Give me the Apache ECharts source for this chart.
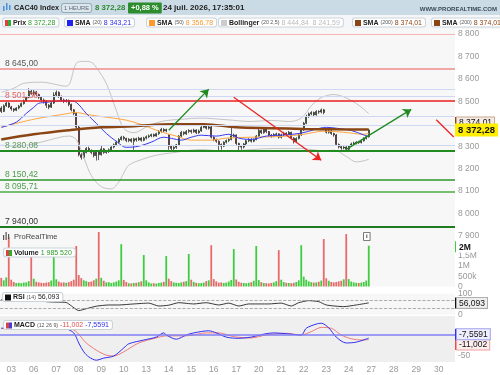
<!DOCTYPE html>
<html>
<head>
<meta charset="utf-8">
<script src="https://cdn.jsdelivr.net/npm/echarts@6/dist/echarts.min.js"></script>
<style>
html, body { margin: 0; padding: 0; background: #fff; }
#chart { width: 500px; height: 375px; }
</style>
</head>
<body>
<div id="chart"></div>
<script>
var days = ['02','03','06','07','08','09','10','13','14','15','16','17','20','21','22','23','24','27','28','29','30'];
var hours = ['09','10','11','12','13','14','15','16','17'];
var slotCount = 182;

// [ouverture, clôture, plus bas, plus haut] par bougie horaire
var candles = [
  [8470,8455,8448,8478],[8455,8480,8452,8486],[8480,8492,8475,8498],[8492,8475,8470,8496],
  // 03
  [8475,8466,8458,8480],[8466,8460,8452,8470],[8460,8470,8456,8474],[8470,8478,8464,8484],[8478,8490,8474,8495],
  [8490,8502,8485,8508],[8502,8518,8498,8524],[8518,8545,8514,8558],[8545,8535,8528,8552],
  // 06
  [8535,8542,8526,8550],[8542,8530,8522,8546],[8530,8518,8510,8534],[8518,8506,8498,8522],[8506,8500,8490,8512],
  [8500,8482,8470,8504],[8482,8474,8465,8488],[8474,8492,8470,8498],[8492,8528,8488,8540],
  // 07
  [8528,8540,8522,8548],[8540,8522,8515,8544],[8522,8506,8500,8526],[8506,8500,8492,8512],[8500,8504,8494,8510],
  [8504,8486,8478,8508],[8486,8462,8455,8490],[8462,8446,8438,8466],[8446,8385,8378,8450],
  // 08
  [8385,8262,8255,8392],[8262,8250,8240,8270],[8250,8272,8246,8278],[8272,8290,8268,8296],[8290,8280,8274,8298],
  [8280,8272,8264,8286],[8272,8258,8250,8276],[8258,8275,8236,8280],[8275,8262,8238,8280],
  // 09
  [8262,8288,8258,8304],[8288,8272,8266,8292],[8272,8276,8266,8282],[8276,8284,8270,8290],[8284,8296,8278,8300],
  [8296,8306,8290,8312],[8306,8318,8300,8324],[8318,8330,8312,8336],[8330,8340,8325,8346],
  // 10
  [8340,8334,8326,8346],[8334,8325,8318,8338],[8325,8331,8318,8336],[8331,8322,8316,8336],[8322,8333,8284,8338],
  [8333,8328,8320,8338],[8328,8336,8324,8342],[8336,8326,8320,8340],[8326,8336,8322,8342],
  // 13
  [8336,8342,8330,8348],[8342,8346,8336,8352],[8346,8352,8340,8356],[8352,8345,8340,8356],[8345,8356,8342,8360],
  [8356,8366,8350,8372],[8366,8375,8360,8382],[8375,8368,8362,8380],[8368,8374,8362,8378],
  // 14
  [8350,8300,8284,8352],[8300,8290,8282,8306],[8290,8295,8282,8300],[8295,8306,8288,8310],[8306,8345,8302,8350],
  [8345,8362,8340,8368],[8362,8355,8348,8366],[8355,8366,8350,8372],[8366,8370,8358,8376],
  // 15
  [8370,8364,8356,8374],[8364,8372,8360,8378],[8372,8360,8354,8376],[8360,8368,8355,8374],[8368,8384,8364,8390],
  [8384,8392,8380,8400],[8392,8380,8374,8396],[8380,8386,8374,8392],[8386,8340,8334,8390],
  // 16
  [8340,8330,8322,8344],[8330,8322,8315,8334],[8322,8308,8282,8326],[8308,8300,8284,8312],[8300,8318,8296,8322],
  [8318,8325,8312,8330],[8325,8330,8318,8336],[8330,8346,8326,8382],[8346,8350,8340,8356],
  // 17
  [8350,8312,8305,8352],[8312,8300,8282,8316],[8300,8296,8284,8306],[8296,8310,8290,8314],[8310,8324,8305,8330],
  [8324,8330,8318,8336],[8330,8322,8316,8336],[8322,8330,8318,8334],[8330,8345,8326,8350],
  // 20
  [8345,8370,8342,8378],[8370,8360,8354,8374],[8360,8376,8356,8382],[8376,8365,8358,8380],[8365,8350,8344,8368],
  [8350,8345,8338,8354],[8345,8352,8340,8358],[8352,8355,8344,8360],[8355,8340,8334,8358],
  // 21
  [8340,8350,8334,8356],[8350,8358,8344,8364],[8358,8354,8348,8362],[8354,8362,8350,8368],[8362,8336,8330,8364],
  [8336,8320,8312,8340],[8320,8334,8316,8340],[8334,8350,8330,8356],[8350,8372,8346,8378],
  // 22
  [8372,8402,8368,8408],[8402,8432,8398,8440],[8432,8444,8426,8450],[8444,8450,8438,8456],[8450,8440,8434,8454],
  [8440,8455,8436,8460],[8455,8452,8444,8460],[8452,8462,8446,8468],[8462,8450,8442,8466],
  // 23
  [8372,8362,8356,8380],[8362,8368,8356,8374],[8368,8356,8350,8372],[8356,8350,8342,8360],[8350,8308,8302,8354],
  [8308,8298,8290,8312],[8298,8292,8284,8304],[8292,8296,8286,8300],[8296,8286,8282,8300],
  // 24
  [8286,8300,8282,8304],[8300,8310,8296,8316],[8310,8314,8304,8320],[8314,8318,8308,8322],[8318,8316,8310,8324],
  [8316,8324,8312,8330],[8324,8334,8320,8340],[8334,8342,8330,8348],[8342,8372.28,8338,8376]
];

var volumes = [
  420000,300000,440000,2400000,
  330000,220000,170000,180000,160000,190000,200000,260000,1770000,
  380000,230000,200000,180000,170000,190000,210000,290000,1770000,
  350000,240000,190000,200000,180000,210000,260000,330000,1970000,
  560000,410000,300000,260000,220000,240000,300000,380000,2650000,
  420000,280000,200000,210000,170000,200000,240000,300000,2060000,
  320000,220000,160000,150000,170000,180000,210000,250000,1530000,
  300000,200000,150000,160000,140000,170000,190000,230000,1480000,
  380000,260000,200000,180000,170000,200000,230000,260000,1580000,
  330000,220000,180000,160000,170000,190000,260000,300000,2010000,
  360000,250000,190000,200000,170000,190000,240000,320000,1820000,
  340000,230000,180000,170000,160000,180000,210000,280000,1970000,
  310000,210000,170000,160000,150000,170000,200000,260000,1770000,
  330000,220000,180000,170000,160000,180000,220000,300000,2010000,
  480000,330000,250000,210000,190000,200000,230000,290000,2310000,
  400000,280000,220000,200000,220000,250000,280000,350000,2550000,
  360000,240000,200000,180000,170000,190000,220000,290000,1985520
];

// indicateurs (indice de bougie, valeur)
var sma20Slots = [0,6,10,13,15,18,21,27,30,34,38,42,46,50,55,60,65,68,72,76,80,86,91,95,100,106,113,120,126,130,134,140,145,147];
var sma20Vals  = [8384,8407,8446,8473,8491,8495,8500,8502,8495,8446,8402,8357,8322,8295,8300,8318,8340,8335,8327,8340,8349,8345,8353,8336,8330,8345,8350,8358,8376,8384,8380,8370,8350,8343.21];

var sma50Slots = [0,13,27,29,35,40,50,57,63,70,76,84,90,100,113,121,129,137,145,147];
var sma50Vals  = [8384,8420,8446,8451,8440,8432,8416,8393,8367,8345,8327,8327,8336,8340,8344,8353,8367,8362,8353,8356.78];

var sma200Slots = [0,13,27,40,53,68,81,94,108,121,134,147];
var sma200Vals  = [8330,8353,8371,8384,8389,8398,8398,8384,8380,8377,8375,8374.01];

var bollUpSlots = [0,5,9,16,26,30,33,36,38,42,46,49,53,58,64,72,80,90,100,108,115,120,124,127,130,133,138,142,145,147];
var bollUpVals  = [8540,8558,8580,8585,8567,8669,8678,8674,8651,8580,8460,8380,8360,8385,8410,8420,8425,8418,8410,8415,8410,8425,8480,8510,8525,8530,8515,8490,8465,8444.84];

var bollLowSlots = [0,6,13,20,27,30,33,36,40,44,47,49,51,56,62,68,80,90,100,110,120,124,128,133,138,142,145,147];
var bollLowVals  = [8305,8300,8310,8330,8345,8330,8250,8170,8120,8110,8140,8180,8215,8240,8260,8270,8285,8277,8285,8290,8290,8285,8280,8282,8255,8230,8235,8241.59];

var rsiSlots = [0,4,8,13,18,22,26,28,31,34,38,43,47,53,59,63,67,71,77,82,87,91,95,99,107,112,116,119,123,127,130,137,142,147];
var rsiVals  = [72,78,75,72,62,60,58,42,19,28,40,46,46,51,55,41,45,57,51,57,46,55,41,51,51,55,41,57,67,62,46,38,46,56.093];

var macdSlots = [0,10,20,26,29,31,33,35,38,41,45,49,51,57,62,65,66,70,74,77,83,86,90,95,100,105,109,114,120,122,126,128,131,134,138,142,147];
var macdVals  = [16,22,25,15,5,-19,-40,-52,-60,-55,-50,-31,-21,-12,-5,5,0,-10,0,5,10,5,-5,-8,-5,2,5,3,0,16,26,28,17,-5,-19,-17,-7.5591];

var signalSlots = [0,10,20,29,34,38,42,45,49,55,62,66,74,82,87,93,100,106,114,120,124,128,132,136,140,144,147];
var signalVals  = [15,18,22,12,-19,-36,-48,-50,-40,-19,-7,-2,-2,5,5,-4,-7,0,4,0,8,18,16,0,-9,-12,-11.002];

// niveaux tracés à la main sur le graphique
var levels = [8798, 8645, 8501.38, 8554, 8522, 8433, 8393, 8304, 8280.08, 8150.42, 8095.71, 7940];
var levelColors = ['#f6b4b4','#f08c8c','#ee1c1c','#cfd8f2','#cfd8f2','#cfd8f2','#cfd8f2','#cfd8f2','#208c20','#2a962a','#48ae48','#1f7d1f'];
var levelWidths = [1.2, 1.5, 1.5, 1, 1, 1, 1, 1, 2, 1.6, 1.6, 2];
var levelLabelColors = [null, '#555', '#e86060', null, null, null, null, null, '#5a9a5a', '#4a9a4a', '#4aa04a', '#333'];

// flèches : [bougie départ, prix départ, bougie arrivée, prix arrivée]
var arrows = [
  [67, 8371, 83, 8554, '#1f8a1f', true],
  [93, 8518, 128, 8237, '#ee2222', true],
  [138, 8286, 164, 8464, '#1f8a1f', true],
  [174, 8418, 181, 8341, '#ee2222', false]
];

var F = 'Liberation Sans, Arial, sans-serif';
var UP = '#3fcc3f', DN = '#e66a6a';
var NOLINE = { color: 'rgba(0,0,0,0)', width: 1, type: 'solid' };

function fr(v, d) {
  var s = Math.abs(v).toFixed(d).split('.');
  var i = s[0].replace(/\B(?=(\d{3})+(?!\d))/g, ' ');
  return (v < 0 ? '-' : '') + (d ? i + ',' + s[1] : i);
}

var cats = [];
days.forEach(function (d, k) {
  (k === 0 ? hours.slice(5) : hours).forEach(function (h) { cats.push(d + ' ' + h + 'h'); });
});
cats = cats.slice(0, slotCount);

function pairs(slots, vals) {
  return slots.map(function (s, i) { return [s, vals[i]]; });
}

var chart = echarts.init(document.getElementById('chart'));

var grids = [
  { left: -2, right: 45, top: 29, height: 207 },
  { left: -2, right: 45, top: 231, height: 55.5 },
  { left: -2, right: 45, top: 293.8, height: 20.7 },
  { left: -2, right: 45, top: 316, height: 46 }
].map(function (g, i) {
  g.show = true;
  g.borderWidth = 0;
  g.backgroundColor = i === 3 ? '#efefef' : '#f7f7f7';
  return g;
});

var xAxes = [0, 1, 2, 3].map(function (i) {
  return {
    type: 'category', gridIndex: i, data: cats, boundaryGap: true,
    axisLine: { show: false }, axisTick: { show: false }, splitLine: { show: false },
    axisLabel: i === 3 ? {
      show: true, color: '#999', fontSize: 8.5, fontFamily: F, margin: 3,
      interval: function (idx, val) { return val.slice(3, 5) === '09'; },
      formatter: function (val) { return val.slice(0, 2); }
    } : { show: false }
  };
});

var yBase = {
  position: 'right', scale: false,
  axisLine: { show: false }, axisTick: { show: false }, splitLine: { show: false }
};
var volNames = { 0: '0', 500000: '500k', 1000000: '1M', 1500000: '1,5M', 2000000: '2M' };
var yAxes = [
  Object.assign({}, yBase, {
    gridIndex: 0, min: 7900, max: 8822, interval: 100,
    axisLabel: { color: '#999', fontSize: 8.5, fontFamily: F, margin: 3, showMaxLabel: false,
      formatter: function (v) { return v % 100 === 0 ? fr(v, 0) : ''; } }
  }),
  Object.assign({}, yBase, {
    gridIndex: 1, min: 0, max: 2700000, interval: 500000,
    axisLabel: { color: '#999', fontSize: 8.5, fontFamily: F, margin: 3, showMaxLabel: false,
      formatter: function (v) { return volNames[v] || ''; } }
  }),
  Object.assign({}, yBase, {
    gridIndex: 2, min: 0, max: 100, interval: 100,
    axisLabel: { color: '#999', fontSize: 8.5, fontFamily: F, margin: 3 }
  }),
  Object.assign({}, yBase, {
    gridIndex: 3, min: -64.3, max: 45.2,
    axisLabel: { color: '#999', fontSize: 8.5, fontFamily: F, margin: 3, customValues: [-50],
      formatter: function (v) { return fr(v, 0); } }
  })
];

function badge(value, text, mark, bg, border, offsetY, bold) {
  return {
    yAxis: value,
    lineStyle: NOLINE,
    label: {
      show: true, position: 'end', distance: 0, offset: [0, offsetY || 0],
      formatter: '{m|}{t|' + text + '}',
      rich: {
        m: { width: 2, height: 11, backgroundColor: mark },
        t: { color: '#111', fontSize: 8.5, fontFamily: F, fontWeight: bold ? 'bold' : 'normal',
             backgroundColor: bg, borderColor: border, borderWidth: 1, padding: [1, 2, 0, 2], height: 9, lineHeight: 9 }
      }
    }
  };
}

var levelData = levels.map(function (v, i) {
  var item = { yAxis: v, lineStyle: { color: levelColors[i], width: levelWidths[i], type: 'solid' } };
  if (levelLabelColors[i]) {
    item.label = { show: true, position: 'insideStartTop', distance: [5, 1], formatter: fr(v, 2),
      color: levelLabelColors[i], fontSize: 8.5, fontFamily: F };
  } else {
    item.label = { show: false };
  }
  return item;
});

var arrowData = arrows.map(function (a) {
  return [
    { coord: [cats[a[0]], a[1]], symbol: 'none', lineStyle: { color: a[4], width: 1.3, type: 'solid' } },
    { coord: [cats[a[2]], a[3]], symbol: a[5] ? 'arrow' : 'none', symbolSize: 8 }
  ];
});

var lastClose = candles[candles.length - 1][1];
var lastSma200 = sma200Vals[sma200Vals.length - 1];

var series = [
  {
    type: 'candlestick', xAxisIndex: 0, yAxisIndex: 0, data: candles, barWidth: '72%',
    itemStyle: { color: '#2fb82f', color0: '#d83030', borderColor: '#1e1e1e', borderColor0: '#1e1e1e', borderWidth: 0.7 },
    markLine: { silent: true, symbol: ['none', 'none'], animation: false, label: { show: false }, data: levelData }
  },
  { type: 'line', xAxisIndex: 0, yAxisIndex: 0, data: pairs(bollUpSlots, bollUpVals), smooth: 0.35, symbol: 'none',
    lineStyle: { color: '#c4c4c4', width: 1 } },
  { type: 'line', xAxisIndex: 0, yAxisIndex: 0, data: pairs(bollLowSlots, bollLowVals), smooth: 0.35, symbol: 'none',
    lineStyle: { color: '#c4c4c4', width: 1 } },
  { type: 'line', xAxisIndex: 0, yAxisIndex: 0, data: pairs(sma50Slots, sma50Vals), smooth: 0.35, symbol: 'none',
    lineStyle: { color: '#ffa640', width: 1 } },
  { type: 'line', xAxisIndex: 0, yAxisIndex: 0, data: pairs(sma20Slots, sma20Vals), smooth: 0.35, symbol: 'none',
    lineStyle: { color: '#3a3af0', width: 1 } },
  { type: 'line', xAxisIndex: 0, yAxisIndex: 0, data: pairs(sma200Slots, sma200Vals), smooth: 0.35, symbol: 'none',
    lineStyle: { color: '#8b4513', width: 2.5 },
    markLine: {
      silent: true, symbol: ['none', 'none'], animation: false, label: { show: false },
      data: arrowData.concat([
        badge(lastSma200, fr(lastSma200, 2), '#8b4513', '#f3ebe4', '#c9a88c', -7),
        {
          yAxis: lastClose, lineStyle: NOLINE,
          label: { show: true, position: 'end', distance: 0, formatter: fr(lastClose, 2),
            backgroundColor: '#ffee00', color: '#111', fontWeight: 'bold', fontSize: 9.5, fontFamily: F, padding: [2, 3, 1, 3] }
        }
      ])
    }
  },
  {
    type: 'bar', xAxisIndex: 1, yAxisIndex: 1, barWidth: '72%',
    data: volumes.map(function (v, i) {
      return { value: v, itemStyle: { color: candles[i][1] >= candles[i][0] ? UP : DN } };
    }),
    markLine: { silent: true, symbol: ['none', 'none'], animation: false,
      data: [badge(volumes[volumes.length - 1], '2M', '#3fcc3f', '#ffffff', '#ffffff', 1, true)] }
  },
  {
    type: 'line', xAxisIndex: 2, yAxisIndex: 2, data: pairs(rsiSlots, rsiVals), smooth: 0.2, symbol: 'none',
    lineStyle: { color: '#222', width: 0.9 },
    markLine: { silent: true, symbol: ['none', 'none'], animation: false, label: { show: false },
      data: [
        { yAxis: 70, lineStyle: { color: '#999', width: 0.8, type: 'dashed' } },
        { yAxis: 30, lineStyle: { color: '#999', width: 0.8, type: 'dashed' } },
        badge(rsiVals[rsiVals.length - 1], fr(rsiVals[rsiVals.length - 1], 3), '#111', '#eeeeee', '#aaaaaa', 0)
      ] }
  },
  {
    type: 'line', xAxisIndex: 3, yAxisIndex: 3, data: pairs(signalSlots, signalVals), smooth: 0.3, symbol: 'none',
    lineStyle: { color: '#f07a7a', width: 1 },
    markLine: { silent: true, symbol: ['none', 'none'], animation: false, label: { show: false },
      data: [badge(signalVals[signalVals.length - 1], fr(signalVals[signalVals.length - 1], 3), '#e84c4c', '#fdeeee', '#f0a0a0', 5)] }
  },
  {
    type: 'line', xAxisIndex: 3, yAxisIndex: 3, data: pairs(macdSlots, macdVals), smooth: 0.3, symbol: 'none',
    lineStyle: { color: '#3030f0', width: 1 },
    markLine: { silent: true, symbol: ['none', 'none'], animation: false, label: { show: false },
      data: [
        { yAxis: 0, lineStyle: { color: '#7f7ff5', width: 1.6, type: 'solid' } },
        badge(macdVals[macdVals.length - 1], fr(macdVals[macdVals.length - 1], 4), '#3030f0', '#eeeeff', '#a0a0f0', -4)
      ] }
  }
];

function box(x, y, text, rich) {
  return {
    type: 'text', z: 100, x: x, y: y,
    style: {
      text: text, rich: rich, fill: '#222', font: '7px ' + F, verticalAlign: 'middle',
      backgroundColor: '#ffffff', borderColor: '#c9d3da', borderWidth: 1, borderRadius: 2, padding: [1, 3, 0, 2]
    }
  };
}
function rt(color, size, bold) {
  return { fill: color, color: color, fontSize: size, fontFamily: F, fontWeight: bold ? 'bold' : 'normal' };
}
function sq(color, w) {
  return { width: w || 6, height: 6, backgroundColor: color };
}

var graphics = [
  { type: 'rect', z: 90, shape: { x: 0, y: 0, width: 500, height: 15 }, style: { fill: '#cbdbe5' } },
  { type: 'rect', z: 90, shape: { x: 0, y: 15, width: 500, height: 14 }, style: { fill: '#f4f6f8' } },
  { type: 'rect', z: 100, shape: { x: 3, y: 6, width: 1.5, height: 5 }, style: { fill: '#4a90d9' } },
  { type: 'rect', z: 100, shape: { x: 6, y: 3, width: 1.5, height: 7 }, style: { fill: '#4a90d9' } },
  { type: 'rect', z: 100, shape: { x: 9, y: 5, width: 1.5, height: 5 }, style: { fill: '#4a90d9' } },
  { type: 'text', z: 100, x: 14, y: 8, style: { text: 'CAC40 Index', font: 'bold 7.3px ' + F, fill: '#222', verticalAlign: 'middle' } },
  { type: 'text', z: 100, x: 62, y: 8, style: { text: '1 HEURE', font: '5.8px ' + F, fill: '#667', verticalAlign: 'middle',
    backgroundColor: '#dbe7ee', borderColor: '#9aabb6', borderWidth: 1, borderRadius: 2, padding: [1.5, 2, 0.5, 2] } },
  { type: 'text', z: 100, x: 95, y: 8, style: { text: '8 372,28', font: 'bold 7.8px ' + F, fill: '#2a8a2a', verticalAlign: 'middle' } },
  { type: 'text', z: 100, x: 128, y: 8, style: { text: '+0,88 %', font: 'bold 7.5px ' + F, fill: '#ffffff', verticalAlign: 'middle',
    backgroundColor: '#2d8c2d', borderRadius: 1, padding: [2, 3, 1, 3] } },
  { type: 'text', z: 100, x: 163, y: 8, style: { text: '24 juil. 2026, 17:35:01', font: 'bold 8px ' + F, fill: '#222', verticalAlign: 'middle' } },
  { type: 'text', z: 100, x: 497, y: 9, style: { text: 'WWW.PROREALTIME.COM', font: 'bold 6px ' + F, fill: '#3a4a5a', align: 'right', verticalAlign: 'middle' } },

  box(3, 22.5, '{r|}{g|} {b|Prix} {v|8 372,28}', { r: sq('#e04040', 3), g: sq('#30b030', 3), b: rt('#222', 7, true), v: rt('#2a9a2a', 7) }),
  box(65, 22.5, '{s|} {b|SMA} {p|(20)} {v|8 343,21}', { s: sq('#2222ee'), b: rt('#222', 7, true), p: rt('#555', 5.3), v: rt('#2b2bee', 7) }),
  box(147, 22.5, '{s|} {b|SMA} {p|(50)} {v|8 356,78}', { s: sq('#ff9a30'), b: rt('#222', 7, true), p: rt('#555', 5.3), v: rt('#f79a30', 7) }),
  box(219, 22.5, '{s|} {b|Bollinger} {p|(20 2,5)} {v|8 444,84  8 241,59}', { s: sq('#cccccc'), b: rt('#222', 7, true), p: rt('#555', 5.3), v: rt('#bbbbbb', 7) }),
  box(353, 22.5, '{s|} {b|SMA} {p|(200)} {v|8 374,01}', { s: sq('#8b4513'), b: rt('#222', 7, true), p: rt('#555', 5.3), v: rt('#8b4513', 7) }),
  box(432, 22.5, '{s|} {b|SMA} {p|(200)} {v|8 374,01}', { s: sq('#8b4513'), b: rt('#222', 7, true), p: rt('#555', 5.3), v: rt('#8b4513', 7) }),

  { type: 'rect', z: 100, shape: { x: 3, y: 235, width: 1.2, height: 5 }, style: { fill: '#555' } },
  { type: 'rect', z: 100, shape: { x: 5.5, y: 232, width: 1.2, height: 8 }, style: { fill: '#555' } },
  { type: 'rect', z: 100, shape: { x: 8, y: 234, width: 1.2, height: 5 }, style: { fill: '#555' } },
  { type: 'text', z: 100, x: 14, y: 237, style: { text: 'ProRealTime', font: '7.5px ' + F, fill: '#444', verticalAlign: 'middle' } },
  box(4, 252.5, '{r|}{g|} {b|Volume} {v|1 985 520}', { r: sq('#e04040', 3), g: sq('#30b030', 3), b: rt('#222', 7, true), v: rt('#2a9a2a', 7) }),
  box(3, 297, '{s|} {b|RSI} {p|(14)} {v|56,093}', { s: sq('#111'), b: rt('#222', 7, true), p: rt('#555', 5.3), v: rt('#222', 7) }),
  box(4, 325, '{r|}{g|} {b|MACD} {p|(12 26 9)} {rv|-11,002} {bv|-7,5591}', { r: sq('#e04040', 3), g: sq('#4040e0', 3), b: rt('#222', 7, true), p: rt('#555', 5.3), rv: rt('#e05050', 7), bv: rt('#3030e0', 7) }),
  { type: 'text', z: 100, x: 364, y: 236.5, style: { text: 'i', font: 'bold 6px ' + F, fill: '#333', verticalAlign: 'middle',
    backgroundColor: '#ffffff', borderColor: '#555', borderWidth: 0.8, padding: [1, 2, 0, 2] } }
];

chart.setOption({
  animation: false,
  backgroundColor: '#ffffff',
  grid: grids,
  xAxis: xAxes,
  yAxis: yAxes,
  series: series,
  graphic: graphics
});
</script>
</body>
</html>
